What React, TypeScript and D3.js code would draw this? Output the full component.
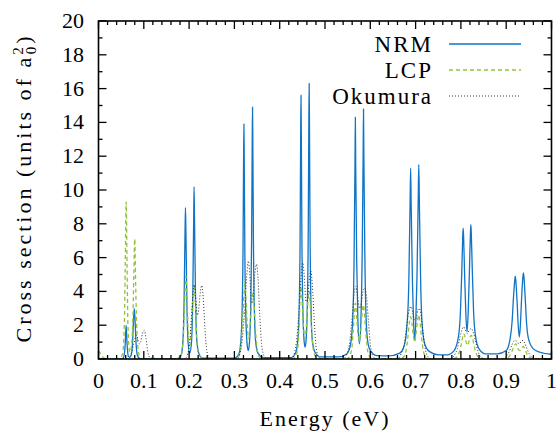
import * as d3 from 'd3'
import React, { useEffect, useRef } from 'react'

// x ticks (eV) and y ticks (a0^2)
const xTicks = [0, 0.1, 0.2, 0.3, 0.4, 0.5, 0.6, 0.7, 0.8, 0.9, 1]
const yTicks = [0, 2, 4, 6, 8, 10, 12, 14, 16, 18, 20]

const seriesNames = ['NRM', 'LCP', 'Okumura']

// NRM cross section [energy, sigma]
const nrm: [number, number][] = [
    [0, 0], [0.052, 0], [0.056, 0.15], [0.059, 0.9], [0.061, 2.0], [0.063, 0.9], [0.066, 0.15], [0.069, 0.1],
    [0.072, 0.2], [0.075, 0.9], [0.077, 2.1], [0.079, 3.0], [0.081, 2.1], [0.083, 0.9], [0.086, 0.2], [0.092, 0.02],
    [0.175, 0], [0.182, 0.2], [0.186, 0.9], [0.189, 3.5], [0.191, 7.5], [0.192, 8.95], [0.193, 7.5], [0.195, 3.5],
    [0.198, 0.9], [0.2015, 0.35], [0.205, 0.9], [0.208, 3.5], [0.21, 8.0], [0.211, 10.2], [0.212, 8.2], [0.214, 4],
    [0.217, 1.1], [0.222, 0.3], [0.23, 0.05],
    [0.30, 0.05], [0.31, 0.3], [0.314, 1.0], [0.317, 2.8], [0.319, 6.5], [0.3202, 11.5], [0.321, 13.9], [0.3218, 11.5],
    [0.323, 6.5], [0.325, 2.8], [0.328, 0.9], [0.3305, 0.5], [0.333, 0.9], [0.336, 2.9], [0.338, 7], [0.3392, 12.3],
    [0.340, 14.9], [0.3408, 12.3], [0.342, 7], [0.344, 3], [0.347, 1.0], [0.352, 0.35], [0.365, 0.08],
    [0.425, 0.08], [0.435, 0.35], [0.44, 1.1], [0.443, 3], [0.445, 7], [0.4462, 12.9], [0.447, 15.6], [0.4478, 12.9],
    [0.449, 7.2], [0.451, 3.1], [0.4535, 1.2], [0.456, 0.7], [0.4585, 1.2], [0.461, 3.2], [0.463, 7.5], [0.4642, 13.5],
    [0.465, 16.3], [0.4658, 13.5], [0.467, 7.5], [0.469, 3.2], [0.472, 1.1], [0.478, 0.4], [0.49, 0.12],
    [0.53, 0.12], [0.548, 0.3], [0.556, 0.8], [0.561, 2.2], [0.564, 5.5], [0.5662, 11.5], [0.567, 14.3], [0.5678, 11.5],
    [0.570, 5.8], [0.5725, 2.4], [0.576, 0.9], [0.5795, 2.5], [0.582, 6], [0.5842, 12], [0.585, 14.8], [0.5858, 12],
    [0.588, 6], [0.5905, 2.6], [0.594, 1.1], [0.60, 0.5], [0.615, 0.2],
    [0.64, 0.18], [0.665, 0.35], [0.675, 0.8], [0.681, 2.0], [0.685, 4.5], [0.6878, 9.2], [0.689, 11.3], [0.6902, 9.2],
    [0.693, 4.6], [0.6955, 2.2], [0.698, 1.1], [0.7005, 2.3], [0.703, 4.8], [0.7058, 9.5], [0.707, 11.5], [0.7082, 9.5],
    [0.711, 4.8], [0.714, 2.2], [0.72, 0.9], [0.73, 0.45], [0.75, 0.25],
    [0.77, 0.25], [0.785, 0.5], [0.795, 1.4], [0.799, 2.8], [0.802, 5.2], [0.804, 7.2], [0.805, 7.75], [0.806, 7.2],
    [0.808, 5.2], [0.811, 2.6], [0.8135, 1.6], [0.816, 2.7], [0.819, 5.4], [0.821, 7.4], [0.822, 7.95], [0.823, 7.4],
    [0.825, 5.4], [0.828, 2.8], [0.832, 1.4], [0.84, 0.6], [0.855, 0.3],
    [0.88, 0.3], [0.9, 0.5], [0.908, 1.1], [0.913, 2.2], [0.916, 3.6], [0.919, 4.7], [0.920, 4.9], [0.921, 4.7],
    [0.924, 3.4], [0.9265, 2.0], [0.929, 1.3], [0.9315, 2.1], [0.934, 3.6], [0.937, 4.9], [0.938, 5.1], [0.939, 4.9],
    [0.942, 3.6], [0.945, 2.1], [0.95, 1.1], [0.96, 0.6], [0.975, 0.4], [1.0, 0.28],
]

// LCP cross section
const lcp: [number, number][] = [
    [0, 0.5], [0.005, 0.3], [0.012, 0.05], [0.045, 0], [0.053, 0.3], [0.057, 2], [0.059, 5.5], [0.061, 9.3],
    [0.063, 5.5], [0.065, 2], [0.069, 0.4], [0.072, 0.6], [0.076, 2.5], [0.078, 5], [0.080, 7.1], [0.082, 4.5],
    [0.085, 1.5], [0.09, 0.2], [0.1, 0],
    [0.17, 0], [0.182, 0.2], [0.187, 1.2], [0.19, 3.2], [0.193, 4.9], [0.196, 3], [0.199, 1.2], [0.202, 0.8],
    [0.205, 1.8], [0.208, 3.5], [0.211, 4.4], [0.214, 3.2], [0.217, 1.2], [0.222, 0.2], [0.235, 0],
    [0.3, 0], [0.308, 0.1], [0.314, 0.7], [0.318, 2.2], [0.321, 3.8], [0.323, 4.4], [0.325, 3.8], [0.328, 2.2],
    [0.3315, 1.2], [0.335, 2.1], [0.338, 3.4], [0.341, 4.0], [0.343, 3.5], [0.346, 2.0], [0.35, 0.6], [0.356, 0.1], [0.365, 0],
    [0.425, 0], [0.434, 0.1], [0.44, 0.7], [0.443, 2.1], [0.445, 3.6], [0.447, 4.3], [0.449, 3.6], [0.452, 2.1],
    [0.456, 1.2], [0.459, 2.0], [0.462, 3.3], [0.465, 4.0], [0.467, 3.4], [0.47, 1.9], [0.474, 0.6], [0.48, 0.1], [0.49, 0],
    [0.545, 0], [0.553, 0.1], [0.559, 0.6], [0.562, 1.6], [0.565, 2.8], [0.567, 3.3], [0.569, 2.8], [0.572, 1.7],
    [0.576, 1.1], [0.579, 1.7], [0.582, 2.7], [0.585, 3.2], [0.587, 2.7], [0.59, 1.6], [0.594, 0.5], [0.6, 0.08], [0.61, 0],
    [0.665, 0], [0.673, 0.1], [0.679, 0.5], [0.683, 1.3], [0.686, 2.1], [0.689, 2.5], [0.692, 2.1], [0.695, 1.4],
    [0.698, 1.0], [0.701, 1.5], [0.704, 2.2], [0.707, 2.6], [0.71, 2.1], [0.713, 1.3], [0.717, 0.5], [0.723, 0.08], [0.73, 0],
    [0.78, 0], [0.79, 0.1], [0.797, 0.45], [0.801, 0.9], [0.804, 1.3], [0.806, 1.5], [0.809, 1.3], [0.812, 0.95],
    [0.815, 0.8], [0.818, 1.05], [0.821, 1.35], [0.823, 1.4], [0.826, 1.2], [0.83, 0.7], [0.835, 0.25], [0.842, 0.05], [0.85, 0],
    [0.895, 0], [0.905, 0.1], [0.911, 0.35], [0.915, 0.6], [0.918, 0.8], [0.921, 0.9], [0.924, 0.75], [0.927, 0.55],
    [0.93, 0.5], [0.933, 0.6], [0.936, 0.72], [0.938, 0.75], [0.941, 0.6], [0.945, 0.35], [0.95, 0.12], [0.958, 0.02],
    [0.97, 0], [1, 0],
]

// Okumura cross section
const okumura: [number, number][] = [
    [0, 0], [0.065, 0], [0.072, 0.3], [0.078, 0.9], [0.084, 1.4], [0.09, 0.9], [0.093, 1.0], [0.097, 1.5],
    [0.101, 1.7], [0.105, 1.2], [0.109, 0.4], [0.115, 0.05],
    [0.19, 0], [0.197, 0.3], [0.202, 1.2], [0.206, 2.8], [0.209, 4.0], [0.211, 4.4], [0.214, 3.8], [0.218, 2.6],
    [0.221, 2.9], [0.225, 4.0], [0.228, 4.35], [0.231, 3.7], [0.235, 1.8], [0.239, 0.5], [0.245, 0.05],
    [0.305, 0], [0.312, 0.3], [0.318, 1.3], [0.323, 3.0], [0.327, 4.8], [0.331, 5.8], [0.334, 5.0], [0.338, 3.3],
    [0.341, 3.5], [0.345, 5.0], [0.349, 5.6], [0.352, 4.8], [0.356, 2.6], [0.36, 0.9], [0.366, 0.15], [0.375, 0],
    [0.425, 0], [0.432, 0.3], [0.438, 1.3], [0.443, 3.0], [0.447, 4.8], [0.451, 5.7], [0.454, 5.0], [0.458, 3.4],
    [0.461, 3.5], [0.465, 4.6], [0.469, 5.2], [0.472, 4.4], [0.476, 2.4], [0.48, 0.8], [0.486, 0.1], [0.495, 0],
    [0.54, 0], [0.548, 0.3], [0.555, 1.1], [0.56, 2.5], [0.564, 3.8], [0.568, 4.3], [0.572, 3.7], [0.576, 3.0],
    [0.58, 3.3], [0.584, 4.0], [0.588, 4.2], [0.592, 3.6], [0.596, 2.2], [0.6, 0.9], [0.606, 0.15], [0.615, 0],
    [0.66, 0], [0.668, 0.3], [0.675, 0.9], [0.68, 1.9], [0.685, 2.8], [0.690, 3.1], [0.694, 2.7], [0.698, 2.3],
    [0.702, 2.5], [0.705, 2.9], [0.708, 3.0], [0.712, 2.6], [0.716, 1.7], [0.72, 0.8], [0.727, 0.15], [0.735, 0],
    [0.775, 0], [0.785, 0.2], [0.792, 0.6], [0.798, 1.3], [0.802, 1.7], [0.806, 1.9], [0.81, 1.7], [0.814, 1.5],
    [0.818, 1.7], [0.823, 1.8], [0.827, 1.6], [0.832, 1.1], [0.837, 0.5], [0.845, 0.1], [0.855, 0],
    [0.89, 0], [0.9, 0.15], [0.907, 0.45], [0.913, 0.85], [0.917, 1.05], [0.921, 1.1], [0.925, 0.95], [0.929, 0.9],
    [0.933, 1.05], [0.937, 1.1], [0.941, 0.95], [0.946, 0.6], [0.952, 0.25], [0.96, 0.05], [0.97, 0], [1, 0],
]

const W = 557
const H = 438
const FONT = "'Liberation Serif', 'DejaVu Serif', 'Times New Roman', Times, serif"

const App = () => {
    const ref = useRef<SVGSVGElement>(null)

    useEffect(() => {
        const svg = d3.select(ref.current)
        svg.selectAll('*').remove()

        const x = d3.scaleLinear().domain([0, 1]).range([98.5, 551.5])
        const y = d3.scaleLinear().domain([0, 20]).range([359, 21])
        const [x0, x1] = x.range()
        const [y0, y1] = y.range()

        const series = [
            { name: seriesNames[0], data: nrm, color: '#0f74c6', width: 1.3, dash: null },
            { name: seriesNames[1], data: lcp, color: '#90c33c', width: 1.3, dash: '4,3' },
            { name: seriesNames[2], data: okumura, color: '#333333', width: 1, dash: '1,2' },
        ]

        const line = d3.line<[number, number]>()
            .x(d => x(d[0]))
            .y(d => y(d[1]))
            .curve(d3.curveMonotoneX)

        svg.append('clipPath').attr('id', 'plotclip')
            .append('rect')
            .attr('x', x0).attr('y', y1)
            .attr('width', x1 - x0).attr('height', y0 - y1)

        const plot = svg.append('g').attr('clip-path', 'url(#plotclip)')
        series.forEach(s => {
            plot.append('path')
                .attr('d', line(s.data))
                .attr('fill', 'none')
                .attr('stroke', s.color)
                .attr('stroke-width', s.width)
                .attr('stroke-dasharray', s.dash)
        })

        // ticks on all four sides
        const ticks = svg.append('g').attr('stroke', 'black').attr('stroke-width', 1.3)
        d3.range(0, 51).forEach(i => {
            const v = i / 50
            const len = i % 5 === 0 ? 8 : 4
            ticks.append('line').attr('x1', x(v)).attr('x2', x(v)).attr('y1', y0).attr('y2', y0 - len)
            ticks.append('line').attr('x1', x(v)).attr('x2', x(v)).attr('y1', y1).attr('y2', y1 + len)
        })
        d3.range(0, 21).forEach(i => {
            const len = i % 2 === 0 ? 8 : 4
            ticks.append('line').attr('x1', x0).attr('x2', x0 + len).attr('y1', y(i)).attr('y2', y(i))
            ticks.append('line').attr('x1', x1).attr('x2', x1 - len).attr('y1', y(i)).attr('y2', y(i))
        })

        svg.append('rect')
            .attr('x', x0).attr('y', y1)
            .attr('width', x1 - x0).attr('height', y0 - y1)
            .attr('fill', 'none').attr('stroke', 'black').attr('stroke-width', 1.6)

        const txt = svg.append('g').attr('font-family', FONT).attr('font-size', 22).attr('fill', 'black')

        // tick labels
        txt.append('g').selectAll('text').data(xTicks).enter().append('text')
            .attr('x', d => x(d)).attr('y', 388)
            .attr('text-anchor', 'middle')
            .text(d => String(d))

        txt.append('g').selectAll('text').data(yTicks).enter().append('text')
            .attr('x', 84).attr('y', d => y(d) + 7)
            .attr('text-anchor', 'end')
            .text(d => String(d))

        // axis titles
        txt.append('text')
            .attr('x', (x0 + x1) / 2).attr('y', 426)
            .attr('text-anchor', 'middle')
            .attr('letter-spacing', 2)
            .text('Energy (eV)')

        const yl = txt.append('text')
            .attr('transform', `translate(31, ${(y0 + y1) / 2 - 2}) rotate(-90)`)
            .attr('text-anchor', 'middle')
            .attr('letter-spacing', 3)
        yl.append('tspan').text('Cross section (units of a')
        yl.append('tspan').attr('dy', -8).attr('font-size', 15).text('2')
        yl.append('tspan').attr('dx', -10).attr('dy', 13).attr('font-size', 15).text('0')
        yl.append('tspan').attr('dy', -5).text(')')

        // legend
        const legend = txt.append('g')
        series.forEach((s, i) => {
            const ly = 44 + i * 26
            legend.append('text')
                .attr('x', 433).attr('y', ly + 8)
                .attr('text-anchor', 'end')
                .attr('font-size', 23)
                .attr('letter-spacing', 2)
                .text(s.name)
            legend.append('line')
                .attr('x1', 449).attr('x2', 521).attr('y1', ly).attr('y2', ly)
                .attr('stroke', s.color).attr('stroke-width', s.width)
                .attr('stroke-dasharray', s.dash)
        })
    }, [])

    return <svg ref={ref} width={W} height={H} style={{ position: 'absolute', left: 0, top: 0, background: 'white' }} />
}

export default App
